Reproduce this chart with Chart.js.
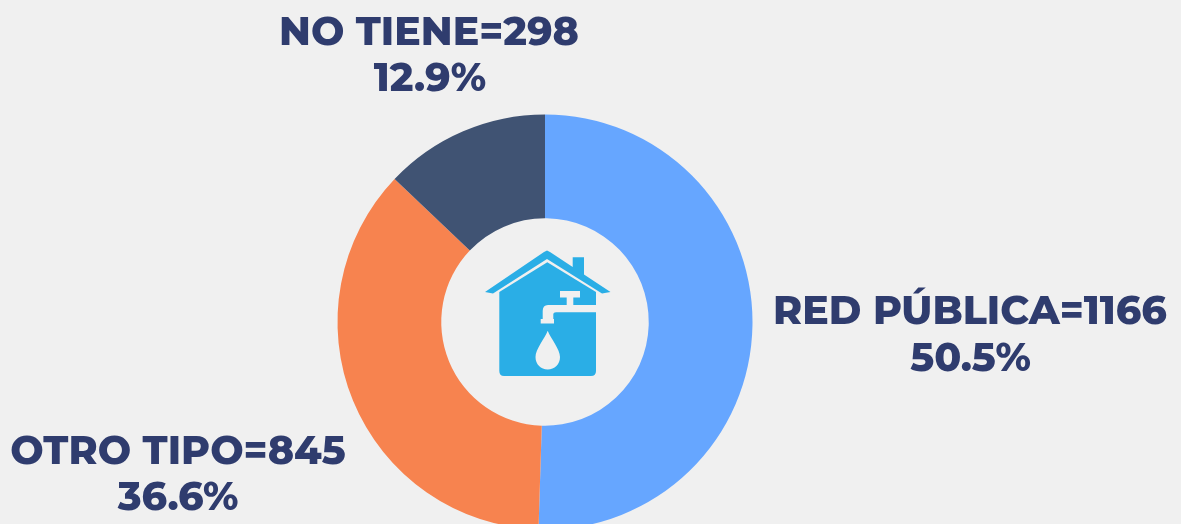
<!DOCTYPE html>
<html><head><meta charset="utf-8">
<style>html,body{margin:0;padding:0;background:#f0f0f0;overflow:hidden}canvas{display:block}</style>
<script src="https://cdn.jsdelivr.net/npm/chart.js@4"></script></head>
<body><div style="position:relative;width:1181px;height:524px;overflow:hidden"><canvas id="c" width="1181" height="540"></canvas></div>
<script>
const categories=["RED PÚBLICA","OTRO TIPO","NO TIENE"];
const values=[1166,845,298];
const percents=["50.5%","36.6%","12.9%"];
const colors=["#66a6ff","#f7834f","#405373"];
const labelPos=[[970,312,970.5,359],[178,452,178,498],[429,33,430,79]];
function poly(c,pts){c.beginPath();pts.forEach((p,i)=>i?c.lineTo(p[0],p[1]):c.moveTo(p[0],p[1]));c.closePath();c.fill();}
const plugin={id:"deco",afterDraw(ch){
 const c=ch.ctx;c.save();
 c.fillStyle="#2f3c6e";c.textAlign="center";c.textBaseline="middle";
 c.font="800 39.5px Montserrat, Inter, 'Open Sans', sans-serif";
 categories.forEach((n,i)=>{const p=labelPos[i];
  c.fillText(n+"="+values[i],p[0],p[1]);c.fillText(percents[i],p[2],p[3]);});
 c.fillStyle="#2aaee6";
 // body
 c.beginPath();c.moveTo(499.3,292);c.lineTo(547.3,262.3);c.lineTo(596,292);c.lineTo(596,371);c.quadraticCurveTo(596,376,591,376);c.lineTo(504,376);c.quadraticCurveTo(499.3,376,499.3,371);c.closePath();c.fill();
 // roof
 poly(c,[[485,292],[544,252],[547,250.5],[550,252],[572.7,267],[572.7,257.3],[584,257.3],[584,274.5],[610.5,292],[602,293.5],[547,259],[493,293.5]]);
 // faucet
 c.fillStyle="#f0f0f0";
 c.fillRect(560,291,20,6.5);
 c.fillRect(566.7,297,6.6,8.5);
 c.beginPath();c.moveTo(596.5,305);c.lineTo(548,305);c.quadraticCurveTo(542.7,305,542.7,311);c.lineTo(542.7,319);c.lineTo(540.7,319);c.lineTo(540.7,323.5);c.lineTo(554,323.5);c.lineTo(554,319);c.lineTo(553.3,319);c.lineTo(553.3,314);c.quadraticCurveTo(553.3,312.3,556,312.3);c.lineTo(596.5,312.3);c.closePath();c.fill();
 // drop
 c.beginPath();c.moveTo(547.7,330.7);c.bezierCurveTo(551,339,560,349,560,357);c.bezierCurveTo(560,364.5,554.5,369.5,547.7,369.5);c.bezierCurveTo(541,369.5,535.5,364.5,535.5,357);c.bezierCurveTo(535.5,349,544.5,339,547.7,330.7);c.fill();
 c.restore();
}};
new Chart(document.getElementById("c"),{type:"doughnut",
 data:{labels:categories,datasets:[{data:values,backgroundColor:colors,borderWidth:0,hoverOffset:0}]},
 options:{responsive:false,animation:false,cutout:"50%",events:[],
  layout:{padding:{top:114.5,bottom:10.5,left:337.5,right:428.5}},
  plugins:{legend:{display:false},tooltip:{enabled:false}}},
 plugins:[plugin]});
</script></body></html>
